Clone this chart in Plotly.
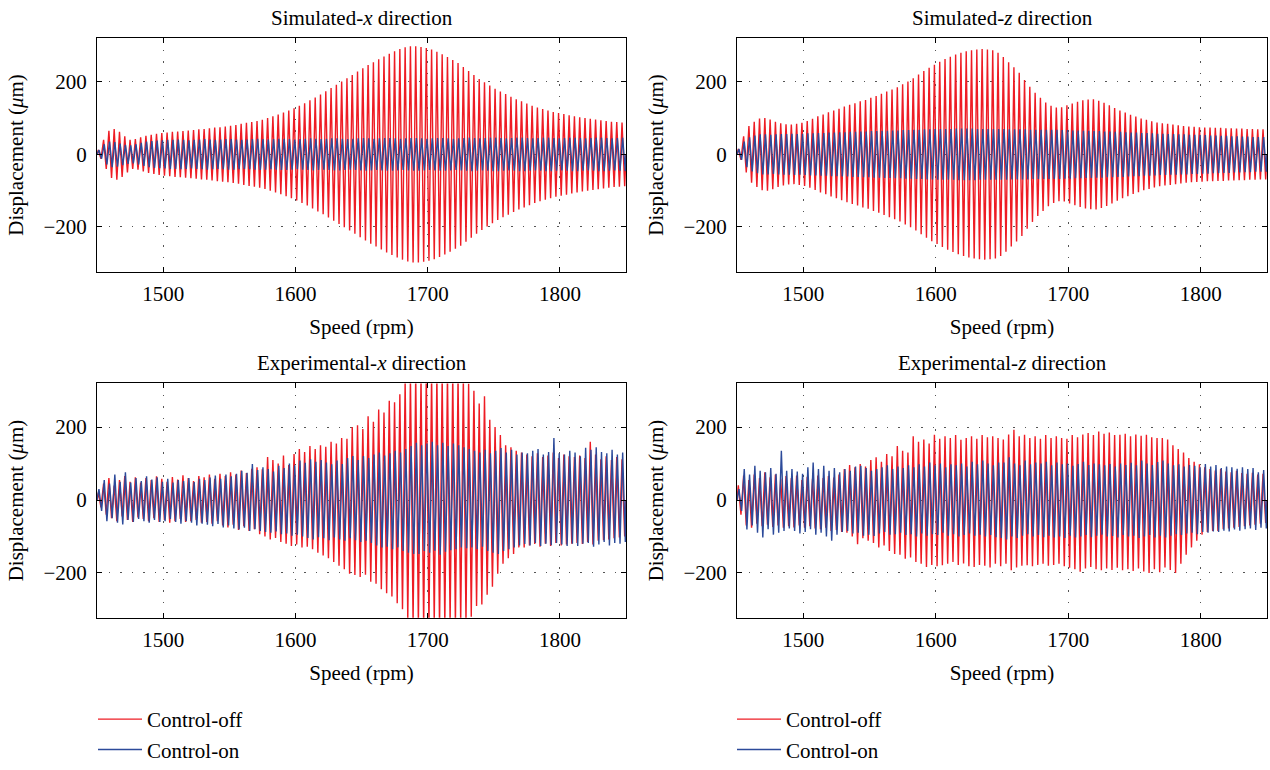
import plotly.graph_objects as go

# ---------------- data ----------------
speed_start, speed_end = 1450, 1850
x_ticks = [1500, 1600, 1700, 1800]
y_ticks = [-200, 0, 200]

# per-cycle peak amplitudes (um), simulated (symmetric)
sim_x_off = [12, 40, 65, 70, 62, 50, 40, 42, 47, 51,
             54, 57, 59, 60, 62, 63, 64, 66, 67, 69,
             70, 72, 74, 75, 77, 79, 81, 84, 87, 89,
             92, 95, 100, 105, 110, 115, 121, 127, 134, 141,
             149, 157, 165, 174, 183, 192, 201, 210, 219, 228,
             237, 246, 254, 262, 270, 277, 284, 290, 295, 298,
             298, 296, 293, 289, 283, 276, 268, 260, 252, 241,
             230, 219, 208, 199, 190, 181, 173, 166, 159, 152,
             146, 140, 134, 129, 125, 121, 117, 114, 111, 108,
             105, 102, 100, 98, 96, 94, 92, 90, 89, 88]
sim_x_on = [12, 28, 35, 34, 30, 26, 25, 28, 32, 35,
            37, 38, 39, 40, 40, 41, 40, 39, 40, 41,
            42, 41, 40, 41, 42, 42, 41, 40, 41, 42,
            43, 42, 41, 42, 43, 43, 42, 41, 42, 43,
            44, 43, 42, 43, 44, 44, 43, 42, 43, 44,
            45, 44, 43, 44, 45, 45, 44, 43, 44, 45,
            45, 44, 43, 44, 45, 45, 44, 43, 44, 45,
            46, 45, 44, 45, 46, 46, 45, 44, 45, 46,
            46, 45, 44, 45, 46, 46, 45, 44, 45, 46,
            46, 45, 44, 45, 46, 46, 45, 44, 45, 46]
sim_z_off = [15, 50, 78, 90, 99, 100, 96, 90, 86, 83,
             82, 84, 87, 92, 98, 105, 110, 116, 121, 126,
             132, 137, 141, 146, 150, 156, 161, 167, 173, 179,
             185, 193, 201, 210, 220, 230, 239, 247, 255, 263,
             269, 275, 280, 284, 287, 289, 290, 289, 287, 280,
             268, 254, 240, 225, 205, 186, 170, 156, 143, 134,
             129, 130, 135, 140, 145, 149, 151, 152, 148, 142,
             135, 128, 121, 115, 109, 104, 99, 95, 91, 88,
             86, 84, 82, 80, 78, 77, 76, 75, 74, 74,
             73, 73, 72, 72, 71, 71, 70, 70, 69, 69]
sim_z_on = [15, 35, 47, 52, 55, 55, 54, 55, 56, 56,
            57, 56, 57, 58, 58, 59, 59, 60, 60, 61,
            61, 62, 62, 63, 63, 64, 64, 65, 65, 66,
            66, 67, 67, 68, 68, 69, 69, 70, 70, 70,
            70, 71, 71, 71, 71, 70, 70, 70, 70, 70,
            70, 69, 69, 69, 69, 68, 68, 68, 68, 68,
            68, 67, 67, 66, 66, 65, 65, 64, 64, 63,
            63, 62, 62, 61, 60, 60, 59, 59, 58, 57,
            57, 56, 56, 55, 55, 54, 54, 53, 53, 52,
            52, 51, 51, 50, 50, 49, 49, 48, 48, 48]

# experimental: per-cycle upper and lower peaks (um)
exp_x_off_up = [20, 45, 60, 40, 55, 66, 50, 62, 48, 60,
                55, 65, 58, 50, 63, 56, 68, 60, 52, 66,
                62, 70, 58, 72, 66, 76, 70, 81, 74, 86,
                90, 84, 118, 110, 100, 122, 96, 126, 140, 132,
                148, 140, 150, 146, 160, 155, 170, 168, 200, 205,
                195, 230, 215, 248, 240, 272, 268, 290, 330, 340,
                345, 340, 350, 345, 345, 340, 350, 345, 340, 335,
                320, 300, 265, 285, 220, 200, 178, 150, 145, 135,
                130, 125, 120, 128, 118, 122, 130, 115, 125, 120,
                118, 122, 115, 160, 125, 112, 120, 110, 118, 112]
exp_x_off_low = [-20, -40, -50, -58, -45, -55, -60, -48, -52, -58,
                 -50, -60, -55, -62, -58, -52, -60, -58, -55, -62,
                 -60, -65, -58, -70, -75, -68, -82, -72, -85, -80,
                 -94, -100, -108, -104, -115, -120, -126, -122, -130, -128,
                 -135, -145, -152, -160, -170, -180, -190, -202, -206, -211,
                 -205, -224, -230, -245, -256, -265, -283, -300, -330, -340,
                 -345, -350, -345, -340, -350, -345, -340, -345, -340, -335,
                 -320, -291, -287, -260, -238, -202, -175, -160, -148, -130,
                 -130, -125, -121, -128, -120, -126, -118, -125, -122, -120,
                 -118, -121, -115, -122, -112, -110, -108, -105, -103, -100]
exp_x_on_up = [30, 55, 45, 70, 50, 76, 48, 60, 52, 65,
               56, 62, 50, 58, 48, 55, 52, 60, 49, 58,
               55, 62, 67, 58, 70, 65, 72, 80, 75, 99,
               82, 90, 85, 78, 94, 88, 100, 95, 108, 102,
               112, 105, 110, 103, 98, 108, 99, 115, 121, 110,
               121, 115, 125, 130, 122, 128, 135, 130, 140, 148,
               157, 150, 155, 160, 150, 157, 148, 155, 150, 145,
               140, 135, 130, 138, 128, 135, 143, 130, 138, 125,
               130, 128, 135, 140, 125, 132, 170, 128, 125, 135,
               130, 120, 143, 138, 145, 132, 128, 138, 125, 130]
exp_x_on_low = [-30, -58, -50, -62, -67, -55, -60, -52, -58, -62,
                -55, -60, -58, -52, -60, -65, -58, -62, -70, -65,
                -68, -72, -66, -75, -70, -78, -81, -76, -85, -80,
                -85, -88, -90, -86, -94, -92, -98, -95, -100, -104,
                -108, -102, -105, -110, -103, -108, -112, -105, -110, -115,
                -112, -118, -125, -130, -128, -135, -130, -140, -145, -148,
                -148, -140, -145, -139, -150, -142, -138, -135, -130, -132,
                -130, -135, -128, -140, -145, -148, -140, -135, -130, -125,
                -121, -125, -118, -126, -120, -124, -118, -122, -126, -120,
                -126, -120, -118, -128, -122, -115, -125, -118, -120, -115]
exp_z_off_up = [40, 67, 55, 70, 60, 76, 62, 70, 58, 66,
                60, 67, 55, 64, 58, 67, 60, 66, 62, 70,
                85, 96, 90, 99, 92, 110, 117, 105, 126, 120,
                148, 135, 130, 175, 160, 166, 155, 179, 168, 175,
                170, 178, 165, 170, 175, 168, 178, 172, 175, 170,
                166, 180, 193, 175, 179, 170, 175, 168, 178, 170,
                175, 170, 168, 178, 172, 180, 184, 178, 188, 182,
                185, 178, 179, 182, 175, 180, 176, 179, 172, 170,
                170, 166, 150, 140, 130, 115, 105, 98, 90, 85,
                81, 85, 78, 76, 80, 74, 72, 75, 70, 72]
exp_z_off_low = [-40, -70, -76, -65, -72, -68, -74, -70, -76, -72,
                 -75, -70, -76, -72, -78, -80, -76, -85, -82, -88,
                 -90, -100, -121, -105, -112, -118, -130, -125, -140, -148,
                 -150, -161, -158, -170, -175, -184, -178, -182, -179, -175,
                 -170, -178, -174, -182, -184, -178, -180, -185, -175, -182,
                 -175, -193, -185, -180, -179, -182, -178, -175, -180, -178,
                 -175, -182, -186, -190, -197, -188, -184, -190, -193, -188,
                 -192, -186, -193, -190, -195, -188, -196, -200, -190, -198,
                 -185, -192, -200, -175, -150, -130, -112, -95, -88, -85,
                 -85, -80, -78, -76, -74, -72, -70, -68, -65, -63]
exp_z_on_up = [30, 85, 70, 94, 80, 76, 88, 72, 135, 80,
               85, 78, 72, 90, 103, 85, 94, 80, 88, 76,
               85, 80, 92, 94, 88, 80, 85, 90, 95, 85,
               92, 88, 95, 90, 98, 92, 103, 95, 100, 90,
               98, 95, 100, 92, 105, 98, 108, 100, 95, 103,
               103, 117, 100, 95, 108, 98, 103, 100, 105, 95,
               103, 98, 100, 94, 99, 105, 96, 100, 98, 95,
               99, 92, 100, 96, 102, 95, 108, 100, 96, 104,
               108, 100, 95, 98, 92, 96, 94, 90, 99, 92,
               96, 88, 92, 90, 86, 90, 85, 88, 76, 82]
exp_z_on_low = [-30, -81, -70, -90, -103, -80, -95, -90, -85, -78,
                -85, -92, -88, -80, -95, -90, -100, -112, -95, -88,
                -85, -92, -90, -98, -95, -99, -92, -88, -95, -94,
                -90, -96, -94, -100, -92, -98, -94, -96, -90, -98,
                -94, -100, -96, -92, -98, -95, -100, -96, -102, -104,
                -108, -100, -104, -98, -94, -100, -96, -102, -98, -103,
                -100, -104, -98, -103, -100, -96, -102, -98, -95, -100,
                -99, -103, -96, -100, -98, -104, -100, -96, -103, -98,
                -103, -98, -94, -96, -92, -90, -94, -88, -90, -86,
                -88, -84, -86, -81, -84, -80, -78, -82, -76, -78]

panel_titles = ["Simulated-<i>x</i> direction", "Simulated-<i>z</i> direction",
                "Experimental-<i>x</i> direction", "Experimental-<i>z</i> direction"]
series_names = ["Control-off", "Control-on"]

# ---------------- styling ----------------
RED = "#ee1c24"
BLUE = "#2c4a9a"
FONT = "Liberation Serif"
W, H = 1270, 770


def trace_xy(up, low, phase):
    n = len(up)
    period = (speed_end - speed_start) / n
    xs, ys = [speed_start], [0]
    for i in range(n):
        xs += [speed_start + period * (i + 0.25 + phase),
               speed_start + period * (i + 0.75 + phase)]
        ys += [up[i], low[i]]
    xs.append(speed_end)
    ys.append(0)
    return xs, ys


panels = [
    (sim_x_off, [-v for v in sim_x_off], sim_x_on, [-v for v in sim_x_on]),
    (sim_z_off, [-v for v in sim_z_off], sim_z_on, [-v for v in sim_z_on]),
    (exp_x_off_up, exp_x_off_low, exp_x_on_up, exp_x_on_low),
    (exp_z_off_up, exp_z_off_low, exp_z_on_up, exp_z_on_low),
]

# pixel boxes of the four panels: (left, right, top, bottom)
boxes = [(97, 626, 39, 277), (737, 1267, 39, 277),
         (97, 626, 391, 630), (737, 1267, 391, 630)]

fig = go.Figure()
for k, (ru, rl, bu, bl) in enumerate(panels):
    ax = "" if k == 0 else str(k + 1)
    leg = "legend" if k % 2 == 0 else "legend2"
    show = k < 2
    xr, yr = trace_xy(ru, rl, 0.0)
    xb, yb = trace_xy(bu, bl, 0.12)
    fig.add_trace(go.Scatter(x=xr, y=yr, mode="lines", name=series_names[0],
                             line=dict(color=RED, width=1.4),
                             xaxis="x" + ax, yaxis="y" + ax,
                             legend=leg, showlegend=show))
    fig.add_trace(go.Scatter(x=xb, y=yb, mode="lines", name=series_names[1],
                             line=dict(color=BLUE, width=1.4),
                             xaxis="x" + ax, yaxis="y" + ax,
                             legend=leg, showlegend=show))

layout = dict(width=W, height=H, margin=dict(l=0, r=0, t=0, b=0),
              paper_bgcolor="white", plot_bgcolor="white",
              font=dict(family=FONT, size=21, color="black"))
annotations = []
for k, (l, r, t, b) in enumerate(boxes):
    ax = "" if k == 0 else str(k + 1)
    common = dict(showline=True, linecolor="black", linewidth=1, mirror="ticks",
                  ticks="inside", ticklen=5, tickcolor="black", tickwidth=1,
                  showgrid=True, gridcolor="#555555", gridwidth=1,
                  griddash="1.5px,10px", zeroline=False,
                  tickfont=dict(family=FONT, size=21, color="black"))
    layout["xaxis" + ax] = dict(common, domain=[l / W, r / W],
                                anchor="y" + ax, range=[speed_start, speed_end],
                                tickvals=x_ticks, ticklabelstandoff=3,
                                title=dict(text="Speed (rpm)", standoff=14,
                                           font=dict(family=FONT, size=21)))
    layout["yaxis" + ax] = dict(common, domain=[1 - b / H, 1 - t / H],
                                anchor="x" + ax, range=[-323, 320],
                                tickvals=y_ticks, ticklabelstandoff=5,
                                title=dict(text="Displacement (<i>μ</i>m)", standoff=14,
                                           font=dict(family=FONT, size=21)))
    annotations.append(dict(text=panel_titles[k], xref="paper", yref="paper",
                            x=(l + r) / 2 / W, y=1 - (t - 21) / H,
                            xanchor="center", yanchor="middle", showarrow=False,
                            font=dict(family=FONT, size=21, color="black")))
layout["annotations"] = annotations
legend_common = dict(font=dict(family=FONT, size=21, color="black"),
                     bgcolor="rgba(0,0,0,0)", borderwidth=0, itemwidth=44,
                     xanchor="left", yanchor="top", tracegroupgap=0)
layout["legend"] = dict(legend_common, x=93 / W, y=1 - 713 / H)
layout["legend2"] = dict(legend_common, x=732 / W, y=1 - 713 / H)
fig.update_layout(**layout)

fig.write_html("out.html", config={"displayModeBar": False},
               post_script="document.body.style.margin='0px';"
                           "document.body.style.overflow='hidden';")
